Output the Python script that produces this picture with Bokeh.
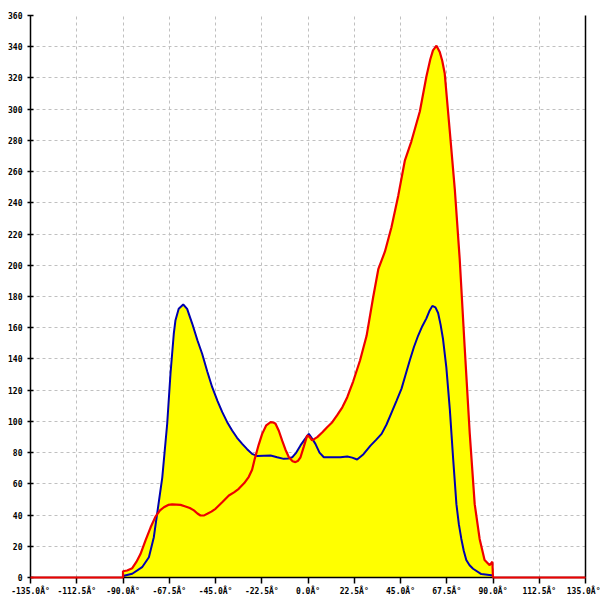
from bokeh.plotting import figure
from bokeh.models import FixedTicker, LinearAxis, Range1d
from bokeh.embed import file_html
from bokeh.resources import INLINE

# ---- data ----
red_x = [-135, -90, -90, -88, -85.5, -83.5, -81.5, -79, -76.6, -74.2, -72, -70.1, -68, -66.1,
         -64, -62, -59.6, -57.5, -55.5, -53.8, -52.3, -50.5, -49, -47, -45, -41.5, -38.5,
         -36, -33.7, -31, -28.8, -27.2, -25.9, -24, -22.3, -20.3, -18.2, -16.8, -15.8,
         -14.2, -12.6, -11, -9.3, -7.5, -6.1, -4.8, -3.65, -2, -0.4, 0.8, 2.0, 4.5, 7,
         9.3, 11.8, 14.2, 16.7, 19.1, 22.0, 25.3, 28.5, 31.7, 34.2, 37.4, 40.6, 43.9, 47.1,
         50.3, 54.4, 57.6, 59.5, 60.8, 62.5, 64.1, 65.3, 66.5, 68.9, 71.4, 73.8, 76.2,
         78.7, 81.1, 83.5, 85.9, 88.4, 89.7, 90, 135]
red_y = [0, 0, 4, 4.5, 6, 10, 15, 24, 32, 39, 43, 45, 46.5, 46.8,
         46.7, 46.5, 45.5, 44.5, 43, 41, 39.7, 39.8, 40.8, 42.2, 44, 48.5, 52.5,
         54.5, 56.8, 60.5, 64.5, 69, 76, 85, 92, 97.5, 99.5, 99.3, 98.5,
         94, 87.8, 82, 77, 74.5, 73.9, 74.8, 77, 84, 91, 90, 87.8, 89.9, 93,
         96.3, 99.5, 104, 109, 115.5, 125.7, 139, 154.8, 179.5, 197.5, 208.7, 224.4, 244.6, 267,
         279.4, 298.5, 320.9, 332, 337.7, 340.7, 336.6, 331, 323, 287, 249, 204, 148,
         92, 47, 24.7, 11.2, 7.9, 10.1, 0, 0]

blue_x = [-90, -85.5, -80.7, -77.4, -75, -73.4, -70.9, -68.5, -66.9, -65.3, -64.5, -62.9,
          -60.7, -58.8, -56.3, -53.8, -51.5, -49, -46.6, -44, -41.7, -39.3, -36.9, -34.5,
          -32, -29.6, -27.2, -24.7, -21.5, -18.2, -15, -11.8, -9.7, -7.7, -5.7, -3.65,
          -1.6, 0.4, 2.0, 3.6, 5.6, 7.7, 11.8, 15.8, 19.1, 21.5, 23.9, 27, 30.4, 33,
          35.8, 38.2, 40.6, 43, 45.5, 47.5, 49.5, 51.5, 53.6, 55.6, 57.6, 59, 60.5, 62,
          63.3, 64.5, 65.7, 67.3, 69, 70.6, 72.2, 73.4, 74.6, 75.8, 77, 78.6, 80.3, 84.3,
          89.2, 90]
blue_y = [1, 2.4, 6.6, 13, 25.8, 40.8, 64, 98.5, 130.5, 156, 164.6, 172.1,
          174.9, 172.1, 162.5, 152, 143.3, 132, 121.9, 113, 105.9, 99.5, 94.2, 89.5,
          85.6, 82.2, 79.2, 77.8, 78, 78.2, 77, 76, 76.2, 77, 80, 84.6,
          88.5, 92, 89, 85.6, 80, 77, 77, 77, 77.5, 76.8, 75.6, 79, 84.5, 88,
          92, 98, 105.5, 113, 121, 130, 139, 147.5, 155, 161, 166, 170.5, 174, 173,
          169.4, 162, 152.6, 134.6, 107.7, 76.3, 47, 34, 24.7, 17, 11.2, 7.8, 5.6, 2.2,
          1.5, 1.5]

x_ticks = [-135, -112.5, -90, -67.5, -45, -22.5, 0, 22.5, 45, 67.5, 90, 112.5, 135]
x_tick_labels = ["-135.0\u00c2\u00b0", "-112.5\u00c2\u00b0", "-90.0\u00c2\u00b0", "-67.5\u00c2\u00b0",
                 "-45.0\u00c2\u00b0", "-22.5\u00c2\u00b0", "0.0\u00c2\u00b0", "22.5\u00c2\u00b0",
                 "45.0\u00c2\u00b0", "67.5\u00c2\u00b0", "90.0\u00c2\u00b0", "112.5\u00c2\u00b0",
                 "135.0\u00c2\u00b0"]
y_ticks = list(range(0, 361, 20))

FONT = "DejaVu Sans Mono"

p = figure(width=600, height=600, output_backend="svg", toolbar_location=None,
           x_range=Range1d(-135, 135), y_range=Range1d(0, 360),
           min_border_left=30, min_border_right=15, min_border_top=15, min_border_bottom=23,
           background_fill_color="white", border_fill_color="white")
p.outline_line_color = None

# fills
p.varea(x=red_x, y1=0, y2=red_y, fill_color="#ffff00", fill_alpha=1.0)
p.varea(x=blue_x, y1=0, y2=blue_y, fill_color="#ffff00", fill_alpha=1.0)

# lines
p.line(blue_x, blue_y, line_color="#0000b0", line_width=2)
p.line(red_x, red_y, line_color="#ee0000", line_width=2.2, level="overlay")

# grid
for g in (p.xgrid, p.ygrid):
    g.grid_line_color = "#c0c0c0"
    g.grid_line_dash = "3 3"
    g.grid_line_width = 1
    g.level = "underlay"
p.xgrid.ticker = FixedTicker(ticks=x_ticks)
p.ygrid.ticker = FixedTicker(ticks=y_ticks)

# axes
xa = p.xaxis[0]
xa.ticker = FixedTicker(ticks=x_ticks)
xa.major_label_overrides = {t: l for t, l in zip(x_ticks, x_tick_labels)}
xa.major_tick_in = 0
xa.major_tick_out = 6
xa.minor_tick_line_color = None
xa.major_label_standoff = 3
xa.axis_line_color = "black"
xa.axis_line_width = 1.5
xa.major_tick_line_width = 1.5
xa.major_label_text_font = FONT
xa.major_label_text_font_size = "8px"
xa.major_label_text_font_style = "bold"
xa.major_label_text_color = "black"

ya = p.yaxis[0]
ya.ticker = FixedTicker(ticks=y_ticks)
ya.major_tick_in = 3
ya.major_tick_out = 3
ya.minor_tick_line_color = None
ya.major_label_standoff = 5
ya.axis_line_color = "black"
ya.axis_line_width = 1.5
ya.major_tick_line_width = 1.5
ya.major_label_text_font = FONT
ya.major_label_text_font_size = "8px"
ya.major_label_text_font_style = "bold"
ya.major_label_text_color = "black"

ra = LinearAxis(ticker=FixedTicker(ticks=[]), major_tick_line_color=None,
                minor_tick_line_color=None, major_label_text_font_size="0px",
                major_tick_out=0, major_tick_in=0, major_label_standoff=0,
                axis_line_color="black", axis_line_width=1.5)
p.add_layout(ra, "right")

open("out.html", "w").write(file_html(p, INLINE))
